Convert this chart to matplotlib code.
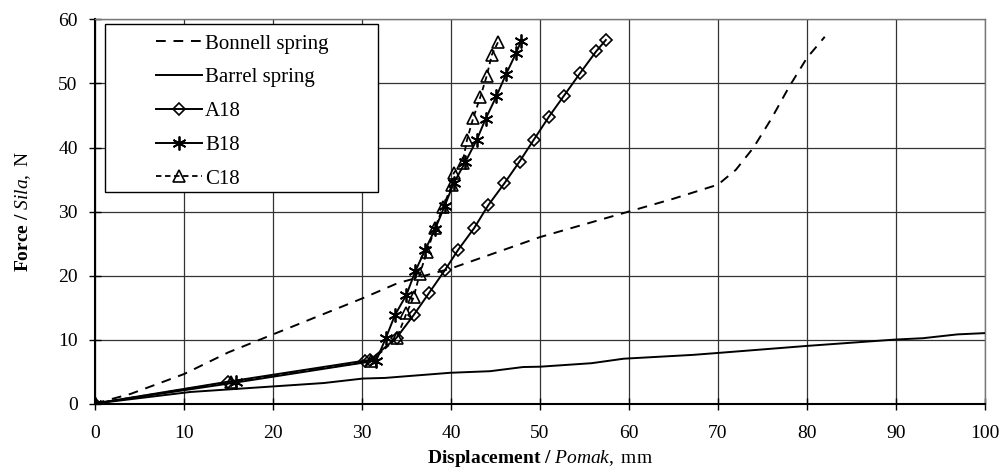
import matplotlib.pyplot as plt
from matplotlib.patches import Rectangle
import numpy as np

# values
bonnell_x = [0, 4, 10, 15, 20, 25, 30, 34, 40, 50, 60, 65, 70, 72, 74, 76, 78, 80, 82]
bonnell_y = [0, 1.5, 4.6, 8.0, 10.8, 13.6, 16.4, 18.8, 21.1, 26.0, 30.0, 32.0, 34.2, 36.5, 40.0, 44.5, 49.5, 54.0, 57.3]

barrel_x = [0, 10.7, 25.7, 30.1, 32.6, 39.9, 44.4, 48.1, 50, 55.8, 59.4, 67.2, 70, 80, 90, 93, 96.9, 100]
barrel_y = [0, 1.8, 3.2, 3.9, 4.0, 4.8, 5.05, 5.7, 5.75, 6.3, 7.0, 7.6, 7.9, 9.0, 10.0, 10.2, 10.8, 11.0]

a18_x = [0, 14.9, 30.3, 30.9, 33.9, 35.8, 37.5, 39.3, 40.8, 42.6, 44.2, 46.0, 47.7, 49.3, 51.0, 52.7, 54.5, 56.3, 57.4]
a18_y = [0, 3.4, 6.7, 6.8, 10.3, 13.8, 17.2, 20.8, 24.0, 27.4, 31.0, 34.4, 37.8, 41.2, 44.8, 48.1, 51.6, 55.0, 56.8]

b18_x = [0, 15.9, 31.6, 32.7, 33.7, 35.0, 36.0, 37.1, 38.2, 39.3, 40.3, 41.6, 42.9, 43.9, 45.1, 46.2, 47.3, 47.9]
b18_y = [0, 3.3, 6.7, 10.3, 13.8, 17.0, 20.7, 24.0, 27.2, 30.9, 34.4, 37.7, 41.2, 44.5, 48.0, 51.5, 54.7, 56.7]

c18_x = [0, 15.3, 31.0, 33.9, 35.0, 35.8, 36.5, 37.3, 38.2, 39.1, 40.1, 40.3, 41.3, 41.8, 42.5, 43.3, 44.0, 44.6, 45.3]
c18_y = [0, 3.4, 6.6, 10.2, 14.1, 16.6, 20.3, 23.7, 27.4, 30.7, 34.1, 36.0, 37.6, 41.2, 44.6, 47.9, 51.1, 54.5, 56.5]

x_ticks = np.arange(0, 101, 10)
y_ticks = np.arange(0, 61, 10)

plt.rcParams['font.family'] = ['Liberation Serif', 'DejaVu Serif']
plt.rcParams['mathtext.fontset'] = 'custom'
plt.rcParams['mathtext.rm'] = 'Liberation Serif'
plt.rcParams['mathtext.it'] = 'Liberation Serif:italic'
plt.rcParams['mathtext.bf'] = 'Liberation Serif:bold'

fig = plt.figure(figsize=(10.02, 4.72), dpi=100)
ax = fig.add_axes([0.0948, 0.1451, 0.8882, 0.8136])

ax.plot(bonnell_x, bonnell_y, color='black', lw=1.4, ls=(0, (5, 4)), label='Bonnell spring', zorder=3)
ax.plot(barrel_x, barrel_y, color='black', lw=1.4, label='Barrel spring', zorder=3)
ax.plot(a18_x, a18_y, color='black', lw=1.4, marker='D', ms=6.5, mfc='none', mec='black',
        mew=1.2, label='A18', zorder=4)
ax.plot(b18_x, b18_y, color='black', lw=1.4, marker=(6, 2, 0), ms=10, mec='black',
        mew=1.3, label='B18', zorder=4)
ax.plot(c18_x, c18_y, color='black', lw=1.3, ls=(0, (3, 2)), marker='^', ms=8, mfc='none',
        mec='black', mew=1.2, label='C18', zorder=4)

ax.set_xlim(0, 100)
ax.set_ylim(0, 60)
ax.set_xticks(x_ticks)
ax.set_yticks(y_ticks)
ax.grid(True, color='#333333', lw=0.9)
ax.tick_params(direction='inout', length=9, width=1, labelsize=14, color='black')
ax.tick_params(axis='x', pad=11)
ax.tick_params(axis='y', pad=8)
for s in ['top', 'right']:
    ax.spines[s].set_color('#777777')
    ax.spines[s].set_linewidth(1)
for s in ['left', 'bottom']:
    ax.spines[s].set_color('black')
    ax.spines[s].set_linewidth(1.5)

ax.set_xlabel(r'$\mathbf{Displacement\ /}\ \mathit{Pomak},\ \mathrm{mm}$', fontsize=14, labelpad=4)
ax.set_ylabel(r'$\mathbf{Force\ /}\ \mathit{Sila},\ \mathrm{N}$', fontsize=14, labelpad=18)

# legend box drawn separately so the entries sit inset like the original
box = Rectangle((0.0112, 0.551), 0.3068, 0.437, transform=ax.transAxes, facecolor='white',
                edgecolor='black', lw=1, zorder=9)
ax.add_patch(box)
leg = ax.legend(loc='upper left', bbox_to_anchor=(0.0685, 0.962), fontsize=15, frameon=False,
                handlelength=2.2, handletextpad=0.15, labelspacing=0.68, borderpad=0,
                borderaxespad=0)
leg.set_zorder(10)

plt.savefig('out.png', dpi=100)
plt.close()
